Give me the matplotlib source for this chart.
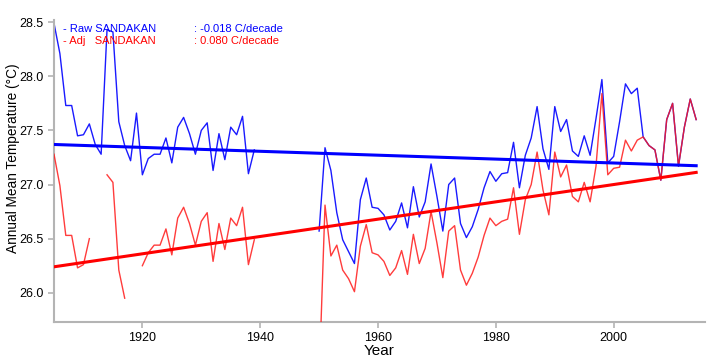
import numpy as np
import matplotlib
matplotlib.use("Agg")
import matplotlib.pyplot as plt

plt.rcParams['font.family'] = ['Liberation Sans', 'DejaVu Sans']

# --- data ---
years = list(range(1905, 2015))
nan = np.nan

raw_sandakan = [
    28.49, 28.21, 27.73, 27.73, 27.45, 27.46, 27.56, 27.37, 27.28, 28.43,  # 1905-1914
    28.41, 27.58, 27.36, 27.22, 27.66, 27.09, 27.24, 27.28, 27.28, 27.43,  # 1915-1924
    27.20, 27.53, 27.62, 27.47, 27.28, 27.50, 27.57, 27.13, 27.47, 27.23,  # 1925-1934
    27.53, 27.46, 27.63, 27.10, 27.32, nan, nan, nan, nan, nan,            # 1935-1944
    nan, nan, nan, nan, nan, 26.57, 27.34, 27.13, 26.74, 26.49,            # 1945-1954
    26.38, 26.27, 26.86, 27.06, 26.79, 26.78, 26.72, 26.58, 26.66, 26.83,  # 1955-1964
    26.60, 26.98, 26.70, 26.84, 27.19, 26.89, 26.57, 27.00, 27.06, 26.64,  # 1965-1974
    26.51, 26.61, 26.77, 26.97, 27.12, 27.03, 27.10, 27.11, 27.39, 26.97,  # 1975-1984
    27.27, 27.43, 27.72, 27.33, 27.14, 27.72, 27.49, 27.60, 27.31, 27.26,  # 1985-1994
    27.45, 27.27, 27.61, 27.97, 27.20, 27.26, 27.58, 27.93, 27.84, 27.89,  # 1995-2004
    27.44, 27.36, 27.32, 27.04, 27.60, 27.75, 27.17, 27.53, 27.79, 27.60,  # 2005-2014
]

adj_sandakan = [
    27.28, 26.99, 26.53, 26.53, 26.23, 26.26, 26.50, nan, nan, 27.09,      # 1905-1914
    27.02, 26.21, 25.95, nan, nan, 26.25, 26.37, 26.44, 26.44, 26.59,      # 1915-1924
    26.35, 26.69, 26.79, 26.64, 26.44, 26.66, 26.74, 26.29, 26.64, 26.40,  # 1925-1934
    26.69, 26.62, 26.79, 26.26, 26.49, nan, nan, nan, nan, nan,            # 1935-1944
    nan, nan, nan, nan, nan, 25.20, 26.81, 26.34, 26.44, 26.21,            # 1945-1954
    26.13, 26.01, 26.43, 26.63, 26.37, 26.35, 26.29, 26.16, 26.23, 26.39,  # 1955-1964
    26.17, 26.54, 26.27, 26.41, 26.75, 26.46, 26.14, 26.57, 26.62, 26.21,  # 1965-1974
    26.07, 26.18, 26.33, 26.53, 26.69, 26.62, 26.66, 26.68, 26.97, 26.54,  # 1975-1984
    26.86, 27.00, 27.30, 26.95, 26.72, 27.30, 27.07, 27.18, 26.89, 26.84,  # 1985-1994
    27.02, 26.84, 27.17, 27.84, 27.09, 27.15, 27.16, 27.41, 27.31, 27.41,  # 1995-2004
    27.44, 27.36, 27.32, 27.04, 27.60, 27.75, 27.17, 27.53, 27.79, 27.60,  # 2005-2014
]

# linear trends: value at 1905 and slope in C/decade
raw_trend_start, raw_trend_decade = 27.37, -0.018
adj_trend_start, adj_trend_decade = 26.24, 0.080

# --- plot ---
fig = plt.figure(figsize=(7.2, 3.6), dpi=100)
ax = fig.add_axes([54 / 720, 1 - 322 / 360, 651 / 720, 302 / 360])

yrs = np.array(years)
ax.plot(yrs, raw_sandakan, color='#1a1aff', lw=1.0, zorder=2)
ax.plot(yrs, adj_sandakan, color='#ff1a1a', lw=1.0, alpha=0.85, zorder=3)

trend_x = np.array([years[0], years[-1]])
raw_trend = raw_trend_start + raw_trend_decade * (trend_x - years[0]) / 10
adj_trend = adj_trend_start + adj_trend_decade * (trend_x - years[0]) / 10
ax.plot(trend_x, raw_trend, color='#0000ff', lw=2.2, zorder=4)
ax.plot(trend_x, adj_trend, color='#ff0000', lw=2.2, zorder=4)

ax.set_xlim(1905, 2015.5)
ax.set_ylim(25.73, 28.52)
ax.set_xticks([1920, 1940, 1960, 1980, 2000])
ax.set_yticks([26.0, 26.5, 27.0, 27.5, 28.0, 28.5])
ax.set_yticklabels(['26.0', '26.5', '27.0', '27.5', '28.0', '28.5'])

for side in ['top', 'right']:
    ax.spines[side].set_visible(False)
for side in ['left', 'bottom']:
    ax.spines[side].set_color('#b4b4b4')
    ax.spines[side].set_linewidth(1.5)
ax.tick_params(axis='both', colors='#b4b4b4', labelcolor='black',
               labelsize=9, length=4, width=1.2, direction='out')

ax.set_xlabel('Year', fontsize=11, labelpad=0)
fig.text(13 / 720, 1 - 158 / 360, 'Annual Mean Temperature (°C)',
         fontsize=9.8, rotation=90, ha='center', va='center')

fig.text(63 / 720, 1 - 29 / 360, '- Raw SANDAKAN', color='#0000ff',
         fontsize=8, va='center')
fig.text(194 / 720, 1 - 29 / 360, ': -0.018 C/decade', color='#0000ff',
         fontsize=8, va='center')
fig.text(63 / 720, 1 - 41 / 360, '- Adj   SANDAKAN', color='#ff0000',
         fontsize=8, va='center')
fig.text(194 / 720, 1 - 41 / 360, ': 0.080 C/decade', color='#ff0000',
         fontsize=8, va='center')

fig.savefig('out.png', dpi=100)
